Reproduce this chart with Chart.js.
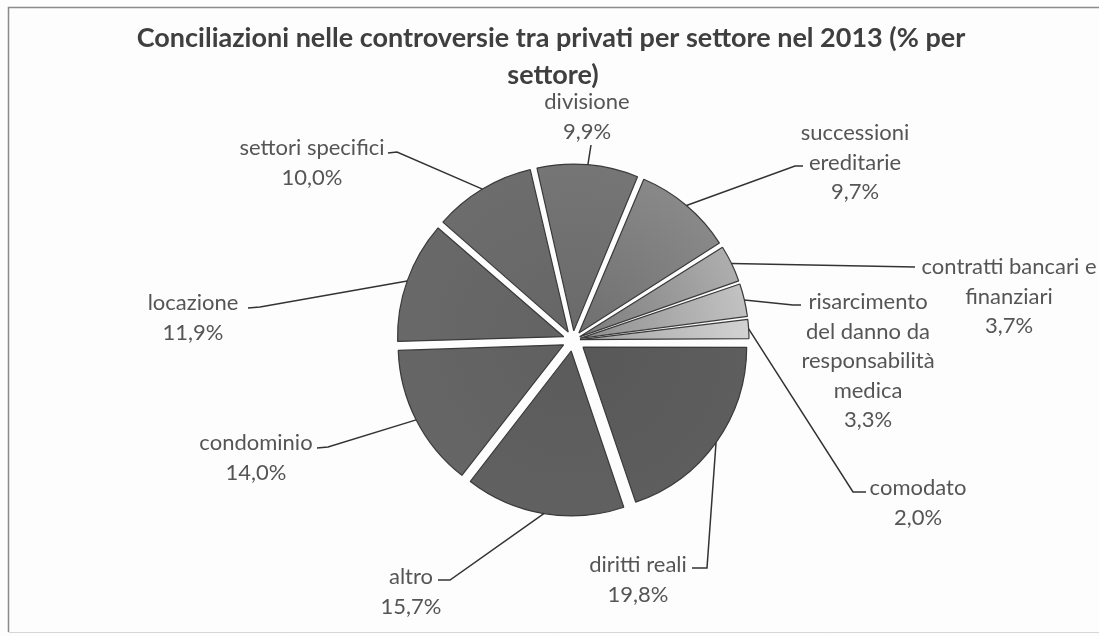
<!DOCTYPE html>
<html>
<head>
<meta charset="utf-8">
<script src="https://cdn.jsdelivr.net/npm/chart.js@4"></script>
<style>
  html, body { margin: 0; padding: 0; background: #fdfdfd; overflow: hidden; }
  #wrap { position: absolute; left: 0; top: 0; width: 1099px; height: 636px; }
</style>
</head>
<body>
<div id="wrap"><canvas id="c" width="1099" height="636"></canvas></div>
<script>
// ---- data ----
const chartTitle = ['Conciliazioni nelle controversie tra privati per settore nel 2013 (% per', 'settore)'];
const categories = [
  'diritti reali',
  'altro',
  'condominio',
  'locazione',
  'settori specifici',
  'divisione',
  'successioni ereditarie',
  'contratti bancari e finanziari',
  'risarcimento del danno da responsabilità medica',
  'comodato'
];
const values = [19.8, 15.7, 14.0, 11.9, 10.0, 9.9, 9.7, 3.7, 3.3, 2.0];

// ---- styles / layout ----
const innerColors = ['#585858', '#5b5b5b', '#606060', '#636363', '#666666', '#6a6a6a', '#6f6f6f', '#7a7a7a', '#8e8e8e', '#a2a2a2'];
const outerColors = ['#5e5e5e', '#616161', '#666666', '#696969', '#6d6d6d', '#767676', '#8a8a8a', '#b0b0b0', '#c4c4c4', '#d4d4d4'];
const EXPLODE = 13;
const PIE_RADIUS = 163;
const LINE_H = 29.5;
const labelLayout = [
  { x: 638,  y: 565, wrap: 300, leader: [[692, 568], [707, 568]] },
  { x: 411,  y: 577, wrap: 300, leader: [[438, 580], [450, 580]] },
  { x: 256,  y: 443, wrap: 300, leader: [[317, 448], [328, 447]] },
  { x: 193,  y: 303, wrap: 300, leader: [[248, 308], [260, 307]] },
  { x: 312,  y: 148, wrap: 300, leader: [[388, 153], [397, 152]] },
  { x: 587,  y: 102, wrap: 300, leader: [[591, 145]] },
  { x: 855,  y: 133, wrap: 120, leader: [[803, 166], [795, 166]] },
  { x: 1009, y: 267, wrap: 185, leader: [[915, 267]] },
  { x: 868,  y: 302, wrap: 145, leader: [[801, 305], [793, 305]] },
  { x: 918,  y: 488, wrap: 300, leader: [[866, 492], [853, 492]] }
];
const LABEL_FONT = '22px Lato, "Open Sans", sans-serif';
const TITLE_FONT = 'bold 27px Lato, "Open Sans", sans-serif';

function fmtPct(v) { return v.toFixed(1).replace('.', ',') + '%'; }

function wrapText(ctx, text, maxW) {
  const words = text.split(' ');
  const lines = [];
  let cur = '';
  for (const w of words) {
    const t = cur ? cur + ' ' + w : w;
    if (cur && ctx.measureText(t).width > maxW) { lines.push(cur); cur = w; }
    else cur = t;
  }
  if (cur) lines.push(cur);
  return lines;
}

const framePlugin = {
  id: 'frame',
  beforeDraw(chart) {
    const ctx = chart.ctx;
    ctx.save();
    ctx.fillStyle = '#fdfdfd';
    ctx.fillRect(0, 0, chart.width, chart.height);
    ctx.strokeStyle = '#8a8a8a';
    ctx.lineWidth = 1.5;
    ctx.beginPath();
    ctx.moveTo(8.5, 632); ctx.lineTo(8.5, 7.5); ctx.lineTo(chart.width, 7.5);
    ctx.stroke();
    ctx.strokeStyle = '#d6d6d6';
    ctx.lineWidth = 1;
    ctx.beginPath();
    ctx.moveTo(8.5, 632.5); ctx.lineTo(chart.width, 632.5);
    ctx.stroke();
    // title
    ctx.fillStyle = '#3f3f3f';
    ctx.font = TITLE_FONT;
    ctx.textAlign = 'center';
    ctx.textBaseline = 'middle';
    ctx.fillText(chartTitle[0], 551, 38);
    ctx.fillText(chartTitle[1], 553, 75);
    ctx.restore();
  }
};

const labelPlugin = {
  id: 'sliceLabels',
  afterDatasetsDraw(chart) {
    const ctx = chart.ctx;
    const meta = chart.getDatasetMeta(0);
    ctx.save();
    ctx.font = LABEL_FONT;
    meta.data.forEach((arc, i) => {
      const lay = labelLayout[i];
      const mid = (arc.startAngle + arc.endAngle) / 2;
      const r = arc.outerRadius + EXPLODE;
      const ax = arc.x + Math.cos(mid) * r;
      const ay = arc.y + Math.sin(mid) * r;
      ctx.strokeStyle = '#333333';
      ctx.lineWidth = 1.5;
      ctx.beginPath();
      ctx.moveTo(lay.leader[0][0], lay.leader[0][1]);
      for (let k = 1; k < lay.leader.length; k++) ctx.lineTo(lay.leader[k][0], lay.leader[k][1]);
      ctx.lineTo(ax, ay);
      ctx.stroke();
      const lines = wrapText(ctx, categories[i], lay.wrap);
      lines.push(fmtPct(values[i]));
      ctx.fillStyle = '#555555';
      ctx.textAlign = 'center';
      ctx.textBaseline = 'middle';
      lines.forEach((t, k) => ctx.fillText(t, lay.x, lay.y + k * LINE_H));
    });
    ctx.restore();
  }
};

const total = values.reduce((a, b) => a + b, 0);
function sliceOffset(c) {
  // Chart.js translates an arc by offset/4 and enlarges its radius by offset/4*fix;
  // choose offset so every slice's outer edge sits EXPLODE px further out.
  const circ = (c.raw / total) * Math.PI * 2;
  const fix = 1 - Math.sin(Math.min(Math.PI, circ));
  return 4 * EXPLODE / (1 + fix);
}
function sliceColor(c) {
  const chart = c.chart;
  const area = chart.chartArea;
  const i = c.dataIndex;
  if (!area) return outerColors[i];
  const cx = (area.left + area.right) / 2, cy = (area.top + area.bottom) / 2;
  const g = chart.ctx.createRadialGradient(cx, cy, 0, cx, cy, PIE_RADIUS + EXPLODE);
  g.addColorStop(0, innerColors[i]);
  g.addColorStop(1, outerColors[i]);
  return g;
}

new Chart(document.getElementById('c'), {
  type: 'pie',
  data: {
    labels: categories,
    datasets: [{
      data: values,
      backgroundColor: sliceColor,
      borderColor: '#3a3a3a',
      borderWidth: 1.2,
      offset: sliceOffset,
      hoverOffset: sliceOffset
    }]
  },
  options: {
    responsive: false,
    animation: false,
    devicePixelRatio: 1,
    rotation: 90,
    radius: PIE_RADIUS,
    layout: { padding: { left: 47, top: 44, right: 0, bottom: 0 } },
    plugins: {
      legend: { display: false },
      tooltip: { enabled: false },
      title: { display: false }
    },
    events: []
  },
  plugins: [framePlugin, labelPlugin]
});
</script>
</body>
</html>
